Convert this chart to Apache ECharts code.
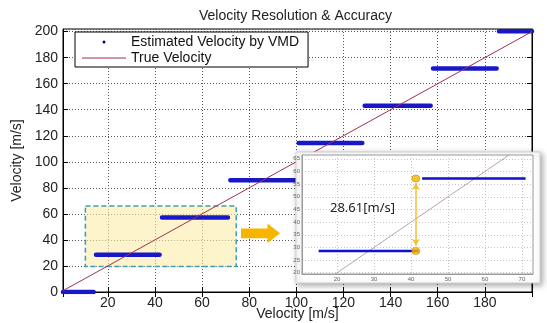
<!DOCTYPE html>
<html>
<head>
<meta charset="utf-8">
<script src="https://cdn.jsdelivr.net/npm/echarts@6/dist/echarts.min.js"></script>
<style>
html,body{margin:0;padding:0;background:#fff;}
#chart{width:547px;height:323px;}
</style>
</head>
<body>
<div id="chart"></div>
<script>
// ---- data ----
const titleText = 'Velocity Resolution & Accuracy';
const axisName = 'Velocity [m/s]';
const seriesNames = ['Estimated Velocity by VMD', 'True Velocity'];
// estimated velocity: step segments (start x, end x) and step value
const segStart = [1, 15, 43, 72, 101, 129, 158, 186];
const segEnd   = [14, 42, 71, 100, 128, 157, 185, 200];
const segValue = [0, 28.61, 57.22, 85.83, 114.44, 143.05, 171.66, 200.27];
// true velocity line endpoints
const trueX = [1, 200];
const trueY = [1, 200];
// zoomed region (main plot highlight) and inset ranges
const zoomBoxX = [10.5, 74.5];
const zoomBoxY = [19.5, 66];
const insetX = [10.5, 73];
const insetY = [19.5, 66.5];
// resolution markers in inset
const markerX = 41.3;

// ---- build ----
function stepData(){
  const d = [];
  for (let i = 0; i < segStart.length; i++) {
    d.push([segStart[i], segValue[i]]);
    d.push([segEnd[i], segValue[i]]);
    if (i < segStart.length - 1) d.push([(segEnd[i] + segStart[i+1]) / 2, '-']);
  }
  return d;
}
const trueData = trueX.map((x, i) => [x, trueY[i]]);
const resolution = segValue[2] - segValue[1];

const FONT = 'Liberation Sans, Arial, sans-serif';
const chart = echarts.init(document.getElementById('chart'), null, {renderer: 'canvas'});

const dotted = {color: '#555', width: 1, type: [1, 2]};
const insetDotted = {color: '#c4c4c4', width: 1, type: [1, 2]};

const option = {
  backgroundColor: '#fff',
  animation: false,
  title: {
    text: titleText, left: 194, top: 4,
    textStyle: {fontFamily: FONT, fontSize: 14, fontWeight: 'normal', color: '#222'}
  },
  legend: {
    orient: 'vertical', left: 75, top: 32,
    padding: [3, 9, 2, 7], itemGap: 2,
    itemWidth: 44, itemHeight: 12,
    backgroundColor: '#fff', borderColor: '#000', borderWidth: 1,
    textStyle: {fontFamily: FONT, fontSize: 14, color: '#111', lineHeight: 13},
    data: [
      {name: seriesNames[0], icon: 'path://M0,0h0.01v0.01h-0.01z M44,12h-0.01v-0.01h0.01z M20.5,6a1.5,1.5 0 1 0 3 0a1.5,1.5 0 1 0 -3 0z', itemStyle: {color: '#000080'}},
      {name: seriesNames[1], icon: 'path://M0,0h0.01v0.01h-0.01z M44,12h-0.01v-0.01h0.01z M0,5.5h44v1h-44z', itemStyle: {color: '#a03050'}}
    ],
    z: 4
  },
  grid: [
    {left: 63, right: 15, top: 29, bottom: 31, show: true, borderColor: '#000', borderWidth: 1, backgroundColor: 'transparent', outerBoundsMode: 'none', containLabel: false},
    {left: 302, right: 14, top: 155, bottom: 49, show: true, borderColor: '#999', borderWidth: 1, backgroundColor: '#fff', z: 6, outerBoundsMode: 'none', containLabel: false}
  ],
  xAxis: [
    {
      type: 'value', gridIndex: 0, min: 1, max: 200, splitNumber: 10,
      name: axisName, nameLocation: 'middle', nameGap: 15, nameMoveOverlap: false,
      nameTextStyle: {fontFamily: FONT, fontSize: 14, color: '#222', verticalAlign: 'top'},
      axisLine: {lineStyle: {color: '#000'}},
      axisTick: {inside: true, length: 5, lineStyle: {color: '#000'}},
      axisLabel: {fontFamily: FONT, fontSize: 14, color: '#222', margin: 4, showMinLabel: false, showMaxLabel: false},
      splitLine: {show: true, lineStyle: dotted}
    },
    {
      type: 'value', gridIndex: 0, min: 1, max: 200, splitNumber: 10, position: 'top',
      axisLine: {lineStyle: {color: '#000'}},
      axisTick: {inside: true, length: 5, lineStyle: {color: '#000'}},
      axisLabel: {show: false}, splitLine: {show: false}
    },
    {
      type: 'value', gridIndex: 1, min: insetX[0], max: insetX[1], splitNumber: 6, z: 6,
      axisLine: {lineStyle: {color: '#999'}},
      axisTick: {show: false},
      axisLabel: {fontFamily: FONT, fontSize: 6, color: '#666', margin: 2, showMinLabel: false, showMaxLabel: false},
      splitLine: {show: true, lineStyle: insetDotted}
    }
  ],
  yAxis: [
    {
      type: 'value', gridIndex: 0, min: 0, max: 202, interval: 20,
      name: axisName, nameLocation: 'middle', nameGap: 36,
      nameTextStyle: {fontFamily: FONT, fontSize: 14, color: '#222'},
      axisLine: {lineStyle: {color: '#000'}},
      axisTick: {inside: true, length: 5, lineStyle: {color: '#000'}},
      axisLabel: {fontFamily: FONT, fontSize: 14, color: '#222', margin: 5, showMaxLabel: false},
      splitLine: {show: true, lineStyle: dotted}
    },
    {
      type: 'value', gridIndex: 0, min: 0, max: 202, interval: 20, position: 'right',
      axisLine: {lineStyle: {color: '#000'}},
      axisTick: {inside: true, length: 5, lineStyle: {color: '#000'}},
      axisLabel: {show: false}, splitLine: {show: false}
    },
    {
      type: 'value', gridIndex: 1, min: insetY[0], max: insetY[1], splitNumber: 9, z: 6,
      axisLine: {lineStyle: {color: '#999'}},
      axisTick: {show: false},
      axisLabel: {fontFamily: FONT, fontSize: 6, color: '#666', margin: 2, showMinLabel: false, showMaxLabel: false},
      splitLine: {show: true, lineStyle: insetDotted}
    }
  ],
  graphic: [
    {
      type: 'rect', z: 5,
      shape: {x: 296, y: 152, width: 244, height: 131},
      style: {fill: '#fff', stroke: '#cfcfcf', lineWidth: 1, shadowBlur: 6, shadowOffsetX: 2, shadowOffsetY: 2, shadowColor: 'rgba(0,0,0,0.35)'}
    },
    {
      type: 'polygon', z: 5,
      shape: {points: [[241, 228.5], [267.5, 228.5], [267.5, 223.5], [280, 233.3], [267.5, 243], [267.5, 238.3], [241, 238.3]]},
      style: {fill: '#f7b500'}
    },
    {
      type: 'text', z: 20, left: 330, top: 202,
      style: {text: resolution.toFixed(2) + '[m/s]', font: '13px "Noto Sans", sans-serif', fill: '#222'}
    }
  ],
  series: [
    {
      name: 'zoomBox', type: 'line', xAxisIndex: 0, yAxisIndex: 0, data: [], z: 1, silent: true,
      markArea: {
        silent: true,
        itemStyle: {color: 'rgba(251,236,170,0.6)', borderColor: '#3a9fbf', borderWidth: 1.5, borderType: [5, 3]},
        data: [[{coord: [zoomBoxX[0], zoomBoxY[1]]}, {coord: [zoomBoxX[1], zoomBoxY[0]]}]]
      }
    },
    {
      name: seriesNames[0], type: 'line', xAxisIndex: 0, yAxisIndex: 0, z: 2,
      data: stepData(), symbol: 'none', connectNulls: false,
      itemStyle: {color: '#1818c8'},
      lineStyle: {color: '#1818c8', width: 4.5, cap: 'round'}
    },
    {
      name: seriesNames[1], type: 'line', xAxisIndex: 0, yAxisIndex: 0, z: 3,
      data: trueData, symbol: 'none',
      itemStyle: {color: '#a03050'},
      lineStyle: {color: '#a03050', width: 1}
    },
    {
      name: 'insetEst', type: 'line', xAxisIndex: 2, yAxisIndex: 2, z: 8,
      data: stepData(), symbol: 'none', connectNulls: false, clip: true,
      lineStyle: {color: '#1010d0', width: 2.5, cap: 'butt'}
    },
    {
      name: 'insetTrue', type: 'line', xAxisIndex: 2, yAxisIndex: 2, z: 7,
      data: trueData, symbol: 'none', clip: true,
      lineStyle: {color: '#b9a2b4', width: 1},
      markLine: {
        silent: true, z: 10, symbol: ['arrow', 'arrow'], symbolSize: [6, 7],
        label: {show: false}, emphasis: {disabled: true},
        lineStyle: {color: '#f5c030', width: 1.5, type: 'solid'},
        data: [[{xAxis: markerX, yAxis: segValue[1] + 2}, {xAxis: markerX, yAxis: segValue[2] - 1.8}]]
      }
    },
    {
      name: 'insetMarkers', type: 'scatter', xAxisIndex: 2, yAxisIndex: 2, z: 9,
      data: [[markerX, segValue[1]], [markerX, segValue[2]]],
      symbol: 'circle', symbolSize: [8, 7],
      itemStyle: {color: '#f5b400', borderColor: '#c98a00', borderWidth: 0.8}
    }
  ]
};
chart.setOption(option);
</script>
</body>
</html>
